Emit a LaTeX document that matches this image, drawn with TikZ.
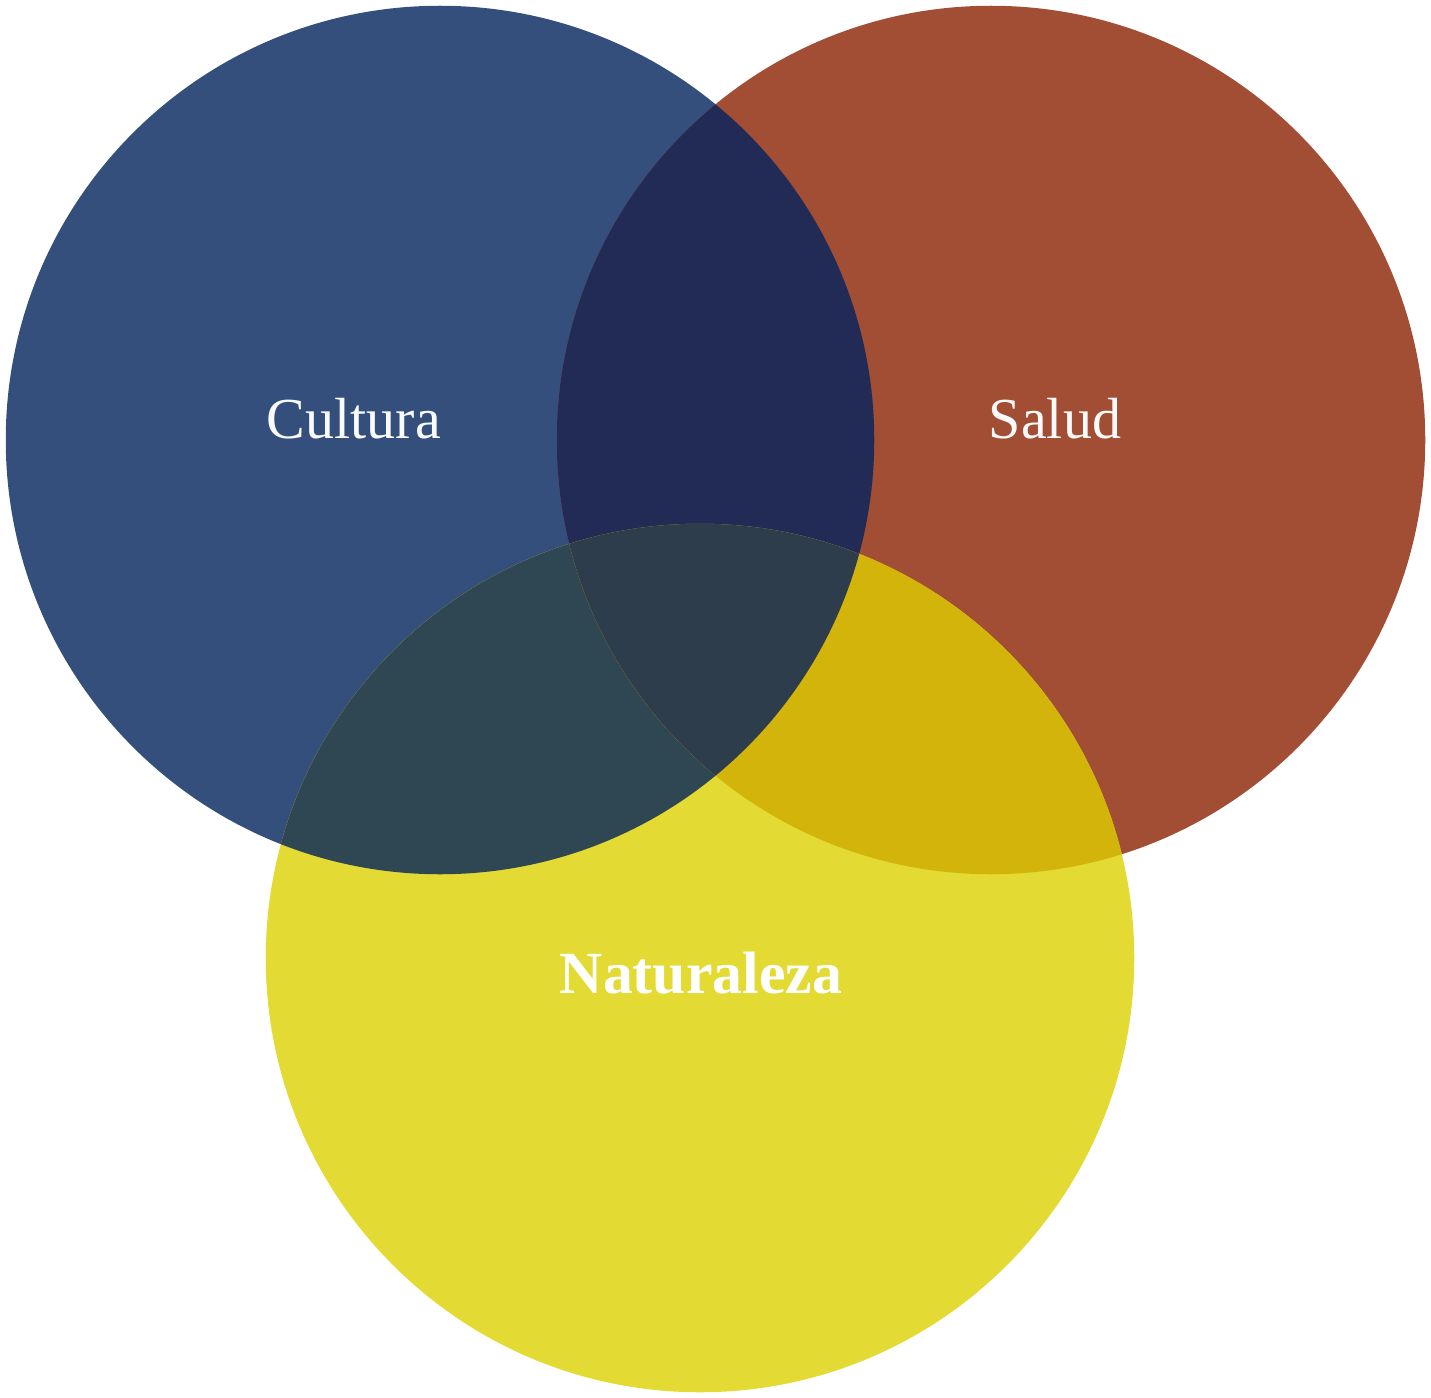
\documentclass[tikz,border=0pt]{standalone}
\usepackage{fontspec}
\setmainfont{Liberation Serif}
\definecolor{cultura}{HTML}{344F7C}
\definecolor{salud}{HTML}{A24E35}
\definecolor{naturaleza}{HTML}{E3DA33}
\definecolor{culsal}{HTML}{222B55}
\definecolor{culnat}{HTML}{2F4653}
\definecolor{salnat}{HTML}{D3B40A}
\definecolor{todos}{HTML}{2D3D4C}
\definecolor{rotulo}{HTML}{FAFAFA}
\begin{document}
\begin{tikzpicture}[x=0.01cm, y=-0.01cm,
  rot/.style={text=rotulo, anchor=base, font=\fontsize{16.5}{20}\selectfont},
  rotb/.style={rot, text=white, font=\fontsize{17}{20}\selectfont\bfseries}]

\useasboundingbox (0,0) rectangle (1431,1397);
\coordinate (cc) at (440,440);
\coordinate (cs) at (991,440);
\coordinate (cn) at (700,958);
\def\radio{4.34cm}

\fill[cultura] (cc) circle (\radio);
\fill[salud] (cs) circle (\radio);
\fill[naturaleza] (cn) circle (\radio);

\begin{scope}
\clip (cc) circle (\radio);
\fill[culsal] (cs) circle (\radio);
\fill[culnat] (cn) circle (\radio);
\end{scope}
\begin{scope}
\clip (cs) circle (\radio);
\fill[salnat] (cn) circle (\radio);
\clip (cc) circle (\radio);
\fill[todos] (cn) circle (\radio);
\end{scope}

\node[rot] (cultura) at (354,438) {Cultura};
\node[rot] (salud) at (1055,438) {Salud};
\node[rotb] (naturaleza) at (701,993) {Naturaleza};
\end{tikzpicture}
\end{document}
